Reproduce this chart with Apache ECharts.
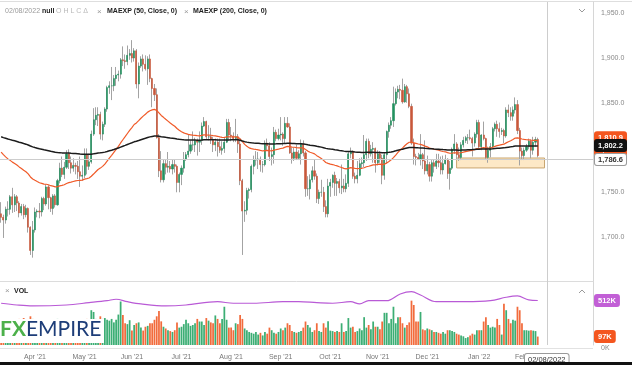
<!DOCTYPE html>
<html><head><meta charset="utf-8">
<script src="https://cdn.jsdelivr.net/npm/echarts@6/dist/echarts.min.js"></script>
<style>html,body{margin:0;padding:0;background:#fff;overflow:hidden}#c{width:632px;height:365px}</style>
</head><body><div id="c"></div>
<script>
// ---- data ----
const firstDay = '2021-03-11';
const totalSlots = 263; // trading days incl. empty right offset
const open = [
1726,1722,1719,1731,1731,1745,1736,1745,1738,1727,1734,1725,1732,1711,1685,
1708,1728,1729,1728,1743,1737,1756,1744,1732,1746,1736,1763,1777,1770,1778,1793,1783,1777,1780,1779,1773,1768,
1769,1792,1779,1784,1815,1831,1836,1837,1815,1826,1843,1867,1869,1869,1877,1881,1882,1898,1897,1896,1903,
1905,1900,1908,1871,1891,1899,1893,1888,1899,1877,1866,1859,1811,1774,1764,1782,1778,1779,1776,1781,1779,1761,
1770,1777,1787,1792,1796,1803,1803,1808,1806,1808,1824,1829,1812,1812,1809,1803,1806,1801,1797,1799,1806,1828,
1814,1813,1810,1812,1804,1763,1729,1730,1752,1753,1779,1786,1787,1787,1781,1781,1805,1802,1790,1792,1817,1810,
1814,1815,1810,1827,1823,1794,1788,1795,1788,1793,1804,1794,1754,1754,1764,1774,1768,1743,1750,1750,1734,1726,
1757,1761,1769,1760,1762,1755,1757,1754,1760,1793,1796,1768,1765,1769,1782,1783,1792,1807,1793,1798,1799,
1783,1793,1788,1769,1792,1818,1825,1830,1849,1862,1865,1864,1851,1868,1860,1846,1805,1790,1789,1787,1792,1785,
1774,1781,1768,1783,1779,1785,1783,1775,1782,1787,1771,1777,1798,1804,1792,1789,1803,1808,1811,1811,1810,1805,1815,
1828,1801,1814,1810,1789,1797,1801,1821,1826,1821,1818,1819,1813,1842,1839,1835,1842,1848,1819,1796,1791,
1797,1801,1807,1797,1806,1809];
const high = [
1739,1725,1734,1740,1747,1755,1748,1747,1740,1737,1737,1736,1733,1712,1718,
1733,1731,1738,1745,1745,1759,1758,1745,1748,1748,1765,1783,1790,1784,1797,1798,1790,1788,1783,1785,1790,1780,
1799,1799,1793,1819,1844,1845,1845,1840,1829,1845,1869,1874,1890,1881,1890,1886,1900,1913,1904,1914,1910,
1920,1911,1910,1895,1902,1904,1903,1902,1904,1878,1871,1866,1815,1796,1787,1787,1795,1785,1787,1787,1781,1772,
1780,1795,1795,1815,1808,1818,1811,1810,1818,1828,1834,1830,1825,1822,1812,1810,1810,1810,1807,1812,1832,1832,
1823,1817,1832,1815,1809,1765,1740,1755,1755,1781,1791,1796,1795,1790,1785,1808,1810,1806,1800,1823,1820,1821,
1834,1817,1834,1834,1827,1800,1800,1803,1797,1809,1808,1796,1768,1770,1779,1787,1771,1753,1764,1756,1741,1765,
1765,1770,1773,1766,1765,1781,1765,1770,1796,1800,1797,1772,1785,1788,1789,1814,1810,1810,1803,1806,1800,
1797,1796,1792,1795,1819,1828,1834,1868,1866,1869,1870,1877,1871,1870,1866,1849,1810,1793,1794,1815,1794,1808,
1791,1784,1786,1787,1793,1793,1790,1791,1792,1788,1785,1800,1815,1806,1800,1806,1812,1813,1815,1820,1812,1817,1831,
1831,1815,1829,1811,1801,1805,1823,1828,1830,1828,1822,1821,1845,1848,1845,1846,1856,1853,1822,1800,1800,
1804,1810,1809,1812,1812,1811];
const low = [
1716,1699,1715,1723,1725,1727,1728,1729,1722,1724,1720,1722,1705,1680,1677,
1705,1722,1721,1723,1730,1735,1731,1728,1725,1733,1735,1760,1767,1765,1776,1776,1771,1773,1770,1765,1756,1763,
1766,1770,1775,1782,1813,1825,1824,1809,1808,1823,1840,1860,1853,1863,1869,1874,1877,1891,1888,1892,1898,
1895,1896,1866,1855,1889,1885,1886,1870,1873,1845,1852,1810,1767,1761,1761,1770,1772,1772,1770,1772,1750,1750,
1758,1772,1785,1789,1793,1797,1795,1791,1795,1803,1823,1809,1808,1804,1795,1796,1790,1794,1792,1794,1805,1808,
1807,1806,1806,1794,1758,1680,1717,1725,1743,1750,1770,1780,1776,1773,1772,1779,1797,1785,1780,1782,1807,1808,
1808,1802,1805,1822,1793,1782,1785,1786,1786,1781,1790,1745,1746,1742,1761,1764,1738,1737,1745,1728,1722,1722,
1745,1755,1746,1746,1749,1748,1750,1750,1756,1788,1765,1760,1760,1768,1776,1778,1785,1788,1790,1783,1772,
1780,1783,1759,1764,1782,1811,1821,1823,1847,1855,1854,1849,1850,1850,1844,1803,1781,1780,1786,1780,1776,1770,
1770,1762,1762,1772,1776,1778,1770,1770,1781,1765,1753,1775,1793,1787,1785,1786,1800,1805,1804,1808,1790,1801,1811,
1799,1797,1808,1786,1783,1789,1799,1818,1812,1811,1814,1805,1811,1834,1830,1830,1838,1815,1780,1786,1786,
1795,1798,1788,1792,1801,1789];
const close = [
1722,1719,1731,1731,1745,1736,1745,1738,1727,1734,1725,1732,1711,1685,1708,
1728,1729,1728,1743,1737,1756,1744,1732,1746,1736,1763,1777,1770,1778,1793,1783,1777,1780,1779,1773,1768,1769,
1792,1779,1784,1815,1831,1836,1837,1815,1826,1843,1867,1869,1869,1877,1881,1882,1898,1897,1896,1903,1905,
1900,1908,1871,1891,1899,1893,1888,1899,1877,1866,1859,1811,1774,1764,1782,1778,1779,1776,1781,1779,1761,1770,
1777,1787,1792,1796,1803,1803,1808,1806,1808,1824,1829,1812,1812,1809,1803,1806,1801,1797,1799,1806,1828,1814,
1813,1810,1812,1804,1763,1729,1730,1752,1753,1779,1786,1787,1787,1781,1781,1805,1802,1790,1792,1817,1810,1814,
1815,1810,1827,1823,1794,1788,1795,1788,1793,1804,1794,1754,1754,1764,1774,1768,1743,1750,1750,1734,1726,1757,
1761,1769,1760,1762,1755,1757,1754,1760,1793,1796,1768,1765,1769,1782,1783,1792,1807,1793,1798,1799,1783,
1793,1788,1769,1792,1818,1825,1830,1849,1862,1865,1864,1851,1868,1860,1846,1805,1790,1789,1787,1792,1785,1774,
1781,1768,1783,1779,1785,1783,1775,1782,1787,1771,1777,1798,1804,1792,1789,1803,1808,1811,1811,1810,1805,1815,1828,
1801,1814,1810,1789,1797,1801,1821,1826,1821,1818,1819,1813,1842,1839,1835,1842,1848,1819,1796,1791,1797,
1801,1807,1797,1806,1809,1791];
const volumeK = [
250,240,200,210,260,290,250,220,300,280,310,200,260,330,300,
280,120,200,240,230,260,270,220,250,230,300,290,270,240,260,270,230,210,200,230,260,240,
280,300,260,400,380,300,290,330,300,310,290,280,300,260,290,350,500,345,250,240,285,
166,230,250,260,200,166,210,220,250,250,290,330,390,272,210,190,170,160,150,170,260,200,
210,240,290,250,220,230,250,300,270,270,230,310,280,260,250,340,300,250,300,440,290,200,
200,170,250,240,345,300,190,170,150,140,130,150,120,140,110,150,130,200,170,140,130,150,
190,170,200,250,230,160,150,140,150,160,200,270,230,200,150,170,250,160,150,250,200,272,
165,160,150,160,150,250,150,160,310,200,210,150,160,190,170,320,200,230,180,270,210,
210,180,270,370,370,250,300,440,250,320,320,250,200,230,260,510,460,270,270,380,180,170,
190,180,170,150,150,140,130,150,130,170,170,160,150,130,120,110,100,80,90,110,130,120,170,
170,170,270,320,230,200,210,200,300,230,120,475,400,300,250,290,280,440,400,250,170,
170,165,170,165,160,97];
// purple volume-panel line, read at these trading-day positions (K)
const volLineIdx = [0,7,14,29,39,47,51,56,62,73,82,96,103,112,125,132,140,147,155,159,163,171,177,182,186,193,206,217,224,229,234,238];
const volLineVal = [480,460,449,460,487,510,526,498,472,449,460,498,480,480,498,498,487,480,498,472,510,510,587,613,575,498,498,510,549,564,518,512];
// EMA seeds read at the left edge
const ma50Start = 1795, ma200Start = 1812;
// tick labels
const priceTicks = [1700,1750,1800,1850,1900,1950];
const monthTicks = ['2021-04','2021-05','2021-06','2021-07','2021-08','2021-09','2021-10','2021-11','2021-12','2022-01','2022-02'];
const monthLabels = ["Apr '21","May '21","Jun '21","Jul '21","Aug '21","Sep '21","Oct '21","Nov '21","Dec '21","Jan '22","Feb '22"];
// right-axis badges and annotations
const ma200Badge = 1802.2, crossPrice = 1786.6;
const orangeBadges = [1810.9, 1797.4];
const cursorIndex = 242, cursorDate = '02/08/2022';
const zoneFrom = 202, zoneTo = 241, zoneTop = 1788.3, zoneBottom = 1777.2;

// ---- build ----
const dates = [];
{ const p = firstDay.split('-').map(Number); const d = new Date(Date.UTC(p[0], p[1]-1, p[2]));
  while (dates.length < totalSlots) { const w = d.getUTCDay(); if (w !== 0 && w !== 6) dates.push(d.toISOString().slice(0,10)); d.setUTCDate(d.getUTCDate()+1); } }
function ema(vals, period, seed){ const a = 2/(period+1); let e = seed; return vals.map((v,i)=>{ if(i>0) e = a*v + (1-a)*e; return +e.toFixed(2); }); }
const fmtP = v => Number(v).toLocaleString('en-US',{minimumFractionDigits:1,maximumFractionDigits:1});
const UP='#23915f', DN='#c8583a', VUP='#3cae74', VDN='#f26b3c', WICK='#a3a3a3';
const wickData = open.map((o,i)=>[o, close[i], low[i], high[i]]);
const bodyData = open.map((o,i)=>[o, close[i], Math.min(o,close[i]), Math.max(o,close[i])]);
const ma50 = ema(close, 50, ma50Start), ma200 = ema(close, 200, ma200Start);
const volData = volumeK.map((v,i)=>({value:v, itemStyle:{color: close[i]>=open[i]?VUP:VDN}}));
const volLine = volLineIdx.map((ix,k)=>[ix, volLineVal[k]]);
const F = 'Liberation Sans, Arial, sans-serif';
const badge = (txt,bg,fg,bc) => ({show:true, position:'end', distance:2, formatter:txt, backgroundColor:bg, color:fg, fontSize:7.5, fontWeight:'bold', fontFamily:F, padding:[2,3,1,3], borderRadius:2, borderColor:bc||bg, borderWidth:1, opacity:1});
const hidden = {color:'rgba(255,255,255,0)', width:0, opacity:1};

const chart = echarts.init(document.getElementById('c'));
chart.setOption({
  animation:false, backgroundColor:'#fff',
  grid:[{left:0,right:39,top:2,height:279},{left:0,right:39,top:281,height:64}],
  xAxis:[
    {type:'category',gridIndex:0,data:dates,boundaryGap:true,axisLine:{show:true,lineStyle:{color:'#dcdcdc'}},axisTick:{show:false},axisLabel:{show:false},splitLine:{show:false}},
    {type:'category',gridIndex:1,data:dates,boundaryGap:true,axisLine:{show:false},axisTick:{show:false},splitLine:{show:false},
     axisLabel:{color:'#777',fontSize:7,fontFamily:F,margin:9,
       interval:(i,v)=>{const m=v.slice(0,7); if(monthTicks.indexOf(m)<0) return false; return i===0||dates[i-1].slice(0,7)!==m;},
       formatter:v=>monthLabels[monthTicks.indexOf(v.slice(0,7))]}}
  ],
  yAxis:[
    {type:'value',gridIndex:0,position:'right',min:1650.9,max:1962.6,splitLine:{show:false},axisTick:{show:false},
     axisLine:{show:true,lineStyle:{color:'#d6d6d6'}},
     axisLabel:{customValues:priceTicks,formatter:fmtP,color:'#888',fontSize:7,fontFamily:F,margin:8}},
    {type:'value',gridIndex:1,position:'right',min:0,max:736,splitLine:{show:false},axisTick:{show:false},
     axisLine:{show:true,lineStyle:{color:'#d6d6d6'}},
     axisLabel:{customValues:[0],formatter:v=>v+'K',color:'#888',fontSize:7,fontFamily:F,margin:8,verticalAlign:'top'}}
  ],
  series:[
    {type:'candlestick',xAxisIndex:0,yAxisIndex:0,data:wickData,barWidth:1,silent:true,
     itemStyle:{color:WICK,color0:WICK,borderColor:WICK,borderColor0:WICK,borderWidth:1}},
    {type:'candlestick',xAxisIndex:0,yAxisIndex:0,data:bodyData,barWidth:1.6,silent:true,
     itemStyle:{color:UP,color0:DN,borderColor:UP,borderColor0:DN,borderWidth:0.6},
     markArea:{silent:true,itemStyle:{color:'rgba(253,230,192,0.9)',borderColor:'#c9a56f',borderWidth:1},
       data:[[{xAxis:dates[zoneFrom],yAxis:zoneTop},{xAxis:dates[zoneTo],yAxis:zoneBottom}]]},
     markLine:{silent:true,symbol:['none','none'],animation:false,
       data:[
         {yAxis:crossPrice,lineStyle:{color:'#cdcdcd',width:1,type:'solid'},label:{show:false}},
         {xAxis:dates[cursorIndex],lineStyle:{color:'#cdcdcd',width:1,type:'solid'},label:{show:false}}
       ]}},
    {type:'line',xAxisIndex:0,yAxisIndex:0,data:ma50,showSymbol:false,silent:true,lineStyle:{color:'#f05a28',width:1.2},z:4},
    {type:'line',xAxisIndex:0,yAxisIndex:0,data:ma200,showSymbol:false,silent:true,lineStyle:{color:'#1c1c1c',width:1.5},z:4,
     markLine:{silent:true,symbol:['none','none'],animation:false,
       data:[
         {yAxis:orangeBadges[0],lineStyle:hidden,label:badge(fmtP(orangeBadges[0]),'#f4561f','#fff')},
         {yAxis:orangeBadges[1],lineStyle:hidden,label:badge(fmtP(orangeBadges[1]),'#f4561f','#fff')},
         {yAxis:ma200Badge,lineStyle:hidden,label:badge(fmtP(ma200Badge),'#111','#fff')},
         {yAxis:crossPrice,lineStyle:hidden,label:badge(fmtP(crossPrice),'#fff','#333','#9a9a9a')}
       ]}},
    {type:'bar',xAxisIndex:1,yAxisIndex:1,data:volData,barCategoryGap:'22%',silent:true,
     markLine:{silent:true,symbol:['none','none'],animation:false,
       data:[
         {xAxis:dates[cursorIndex],lineStyle:{color:'#cdcdcd',width:1,type:'solid'},
          label:{show:true,position:'start',distance:9,formatter:cursorDate,backgroundColor:'#fff',borderColor:'#9a9a9a',borderWidth:1,borderRadius:2,padding:[2,3,1,3],color:'#333',fontSize:7.5,fontFamily:F}}
       ]}},
    {type:'line',xAxisIndex:1,yAxisIndex:1,data:volLine,smooth:0.35,showSymbol:false,silent:true,lineStyle:{color:'#b95ad6',width:1.2},z:4,
     markLine:{silent:true,symbol:['none','none'],animation:false,
       data:[
         {yAxis:volLineVal[volLineVal.length-1],lineStyle:hidden,label:badge(volLineVal[volLineVal.length-1]+'K','#c25fd6','#fff')},
         {yAxis:volumeK[volumeK.length-1],lineStyle:hidden,label:badge(volumeK[volumeK.length-1]+'K','#f4561f','#fff')}
       ]}}
  ],
  graphic:[
    {type:'line',shape:{x1:0,y1:1.5,x2:632,y2:1.5},style:{stroke:'#dedede',lineWidth:1},silent:true},
    {type:'line',shape:{x1:0,y1:348.5,x2:593,y2:348.5},style:{stroke:'#e2e2e2',lineWidth:1},silent:true},
    {type:'text',left:5,top:8,style:{text:'02/08/2022',fill:'#9a9a9a',font:'7px '+F}},
    {type:'text',left:42,top:8,style:{text:'null',fill:'#222',font:'bold 7px '+F}},
    {type:'text',left:56,top:8,style:{text:'O H L C Δ',fill:'#b8b8b8',font:'7px '+F}},
    {type:'text',left:97,top:7.5,style:{text:'×',fill:'#999',font:'8px '+F}},
    {type:'text',left:107,top:8,style:{text:'MAEXP (50, Close, 0)',fill:'#222',font:'bold 7px '+F}},
    {type:'text',left:184,top:7.5,style:{text:'×',fill:'#999',font:'8px '+F}},
    {type:'text',left:193,top:8,style:{text:'MAEXP (200, Close, 0)',fill:'#222',font:'bold 7px '+F}},
    {type:'text',left:5,top:287,style:{text:'×',fill:'#999',font:'8px '+F}},
    {type:'text',left:14,top:287.5,style:{text:'VOL',fill:'#222',font:'bold 7px '+F}},
    {type:'polyline',shape:{points:[[579,9],[582,12],[585,9]]},style:{stroke:'#999',lineWidth:1,fill:null},silent:true},
    {type:'polyline',shape:{points:[[579,293],[582,290],[585,293]]},style:{stroke:'#999',lineWidth:1,fill:null},silent:true},
    {type:'rect',shape:{x:0,y:319,width:104,height:24},style:{fill:'#fff'},z:10,silent:true},
    {type:'text',left:0,top:319,z:11,style:{text:'{g|FX}{b|EMPIRE}',rich:{g:{fill:'#4cb04a',font:'bold 21px Lato, sans-serif'},b:{fill:'#1d3d78',font:'21px Lato, sans-serif'}}}},
    {type:'rect',shape:{x:0,y:362,width:632,height:3},style:{fill:'#111'},z:20,silent:true}
  ]
});
</script></body></html>
